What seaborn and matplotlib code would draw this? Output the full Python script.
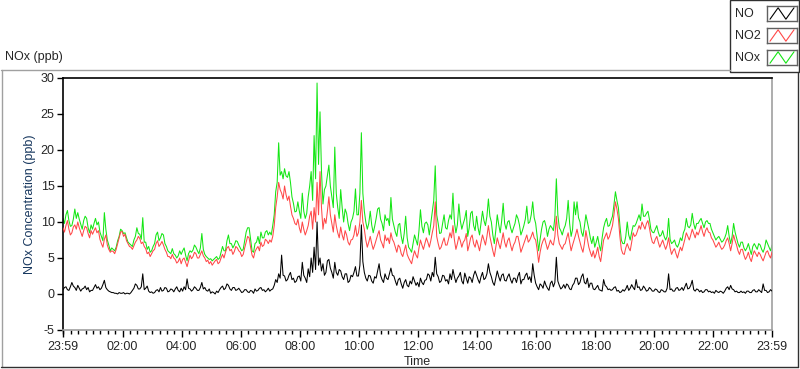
import numpy as np
import pandas as pd
import matplotlib
matplotlib.use("Agg")
import matplotlib.pyplot as plt
import seaborn as sns
from matplotlib.lines import Line2D
from matplotlib.patches import Rectangle


# DATA  (one reading every 3 minutes, starting at 23:59 of the previous day)
# one row per hour: 20 readings

STEP_MIN = 3

no_ppb = [
    0.6, 0.9, 1.0, 0.6, 0.5, 1.0, 1.6, 1.1, 0.9, 0.5, 1.2, 0.8, 0.4, 0.7, 0.8, 1.1, 0.6, 0.9, 0.3, 0.5,
    0.5, 0.9, 1.3, 0.8, 1.0, 0.6, 0.8, 1.3, 1.9, 0.9, 0.6, 0.4, 0.3, 0.2, 0.2, 0.1, 0.1, 0.0, 0.2, 0.1,
    0.1, 0.2, 0.0, 0.1, 0.1, 0.0, 0.2, 0.5, 0.8, 1.4, 1.2, 0.7, 0.7, 1.0, 2.8, 0.6, 0.8, 1.1, 0.4, 0.2,
    0.3, 0.1, 0.2, 0.5, 0.6, 0.3, 0.9, 0.4, 0.5, 0.9, 0.8, 0.3, 0.4, 0.7, 0.6, 0.3, 0.7, 1.0, 0.5, 0.3,
    0.8, 0.4, 1.0, 0.6, 2.1, 0.8, 0.7, 0.4, 0.6, 1.0, 0.8, 0.5, 0.5, 0.9, 1.6, 0.7, 0.9, 0.5, 0.4, 0.7,
    0.1, 0.3, 0.2, 0.0, 0.4, 0.2, 0.6, 0.9, 1.1, 0.6, 0.8, 1.4, 1.2, 0.7, 0.5, 0.9, 0.9, 0.5, 0.6, 0.8,
    0.5, 0.2, 0.3, 0.6, 0.6, 0.3, 0.2, 0.5, 0.4, 0.1, 0.7, 0.4, 0.5, 0.8, 0.9, 0.5, 0.6, 0.3, 0.5, 0.8,
    0.4, 0.6, 0.7, 1.2, 2.0, 1.6, 2.8, 2.2, 5.4, 2.6, 2.5, 1.8, 2.0, 2.6, 3.0, 2.0, 2.2, 1.6, 1.8, 2.4,
    2.5, 1.8, 4.4, 2.6, 2.2, 1.6, 3.5, 2.4, 5.0, 3.0, 6.5, 3.4, 10.0, 4.0, 5.0, 3.2, 4.2, 2.6, 3.0, 4.6,
    4.8, 3.6, 3.0, 2.2, 4.4, 3.0, 2.6, 3.4, 3.2, 2.4, 2.0, 2.8, 2.8, 1.6, 1.8, 2.6, 2.4, 3.0, 3.8, 2.5,
    2.5, 4.0, 9.6, 4.5, 3.0, 2.2, 1.8, 2.6, 2.5, 1.8, 1.5, 2.4, 2.2, 3.2, 4.2, 2.6, 2.0, 1.6, 2.8, 2.2,
    2.0, 2.8, 3.6, 2.6, 2.5, 1.8, 1.2, 2.0, 2.2, 1.4, 0.8, 1.6, 2.0, 1.2, 1.0, 1.8, 1.4, 2.4, 1.8, 1.2,
    1.6, 1.0, 2.2, 1.6, 1.3, 1.9, 2.0, 2.8, 2.6, 1.8, 3.0, 2.4, 5.1, 2.8, 2.4, 1.6, 1.8, 2.6, 2.5, 1.8,
    2.0, 1.4, 2.8, 2.0, 3.4, 2.4, 1.6, 2.2, 2.5, 3.0, 1.8, 1.4, 2.9, 2.2, 1.5, 2.4, 2.2, 1.6, 2.6, 3.2,
    2.6, 2.0, 1.5, 2.4, 3.0, 2.0, 2.2, 2.8, 4.2, 3.0, 2.4, 1.6, 1.2, 2.2, 3.2, 2.4, 1.8, 2.6, 2.8, 1.9,
    1.8, 2.4, 2.8, 2.0, 1.5, 2.2, 2.2, 1.6, 2.5, 3.0, 1.4, 2.0, 2.0, 2.6, 2.9, 2.0, 2.4, 1.6, 4.2, 2.6,
    1.5, 1.0, 0.6, 1.4, 1.2, 0.8, 1.8, 1.2, 0.8, 0.5, 1.5, 1.8, 1.0, 1.6, 5.1, 1.8, 1.2, 0.7, 0.9, 1.3,
    0.8, 1.4, 1.2, 0.7, 0.6, 1.2, 1.5, 2.2, 2.2, 1.3, 1.6, 2.4, 2.8, 1.6, 1.4, 2.2, 0.9, 1.5, 1.5, 0.7,
    0.6, 0.9, 1.2, 0.6, 0.5, 0.4, 2.0, 1.2, 1.0, 0.6, 0.7, 0.5, 0.6, 0.9, 1.0, 0.4, 0.5, 0.2, 0.3, 0.6,
    0.4, 0.7, 1.2, 0.5, 0.8, 1.3, 0.9, 0.6, 2.0, 0.9, 1.0, 0.5, 0.6, 1.1, 0.8, 0.4, 0.5, 0.9, 0.7, 0.4,
    0.4, 0.7, 0.6, 0.3, 0.2, 0.6, 0.5, 0.3, 0.3, 0.8, 2.8, 0.6, 0.7, 0.4, 0.4, 0.8, 0.9, 0.5, 0.6, 0.9,
    0.5, 1.0, 1.5, 0.7, 0.8, 1.2, 1.9, 0.6, 0.4, 0.7, 0.6, 0.3, 0.5, 0.2, 0.3, 0.6, 0.6, 0.3, 0.4, 0.2,
    0.3, 0.1, 0.5, 0.3, 0.2, 0.4, 0.3, 0.1, 0.4, 0.8, 1.0, 0.6, 1.2, 0.7, 0.6, 0.3, 0.4, 0.2, 0.2, 0.4,
    0.2, 0.3, 0.1, 0.4, 0.4, 0.2, 0.2, 0.5, 0.6, 0.3, 0.3, 0.6, 0.4, 0.2, 1.4, 0.5, 0.5, 0.2, 0.3, 0.6,
    0.4,
]

no2_ppb = [
    9.2, 8.6, 9.5, 10.2, 9.0, 8.2, 8.5, 9.3, 9.6, 9.0, 10.0, 9.2, 8.6, 8.0, 8.8, 9.4, 9.2, 8.4, 7.8, 8.8,
    8.3, 8.8, 9.2, 8.5, 8.8, 7.6, 7.0, 6.5, 7.6, 8.2, 6.8, 6.2, 5.8, 6.0, 5.9, 5.6, 6.2, 7.0, 7.8, 8.6,
    8.7, 8.0, 8.3, 7.4, 7.0, 6.6, 6.5, 6.2, 6.7, 7.2, 7.5, 8.0, 7.7, 7.0, 7.2, 6.6, 6.3, 5.6, 5.8, 5.2,
    5.6, 6.0, 6.2, 7.0, 7.4, 6.6, 6.9, 7.3, 6.8, 6.2, 5.8, 5.2, 5.2, 4.9, 5.5, 5.0, 4.8, 4.3, 4.5, 5.0,
    4.2, 4.8, 5.0, 4.4, 3.8, 4.6, 5.4, 4.9, 5.2, 5.8, 5.6, 5.0, 5.0, 5.5, 6.0, 5.3, 5.0, 4.5, 4.7, 4.2,
    4.5, 4.0, 4.3, 4.6, 4.8, 4.2, 4.4, 5.0, 5.5, 5.0, 5.8, 6.4, 6.6, 6.0, 6.2, 5.5, 5.9, 6.6, 6.4, 6.0,
    5.8, 5.2, 5.5, 6.4, 7.2, 8.0, 7.8, 6.5, 5.4, 5.0, 5.9, 6.3, 6.6, 6.0, 7.2, 6.6, 6.8, 7.6, 7.4, 7.0,
    7.5, 7.2, 8.0, 9.5, 12.0, 13.5, 15.5, 14.5, 14.0, 13.2, 15.0, 13.8, 13.0, 13.6, 12.2, 11.0, 10.5, 9.8, 9.6, 10.4,
    9.2, 8.5, 10.0, 9.0, 8.2, 8.8, 9.5, 10.8, 11.5, 9.0, 12.0, 10.0, 15.5, 11.0, 17.0, 12.0, 9.0, 10.5, 9.8, 11.5,
    13.5, 11.0, 9.8, 8.6, 11.0, 9.5, 8.5, 7.8, 9.3, 8.2, 7.5, 8.8, 8.2, 7.2, 6.8, 7.5, 7.6, 8.2, 9.5, 8.0,
    8.5, 10.0, 13.0, 10.0, 9.0, 7.5, 6.5, 7.2, 8.0, 7.0, 6.2, 6.8, 7.5, 8.2, 8.8, 7.5, 7.0, 6.4, 8.2, 7.4,
    7.8, 7.0, 8.5, 7.6, 7.2, 6.5, 5.8, 6.8, 6.5, 5.6, 5.2, 6.0, 6.8, 5.5, 5.0, 4.6, 4.2, 5.2, 6.0, 5.4,
    5.0, 6.4, 7.5, 6.8, 6.2, 7.0, 7.8, 7.2, 6.5, 7.4, 8.5, 9.5, 12.8, 8.0, 7.0, 6.2, 6.5, 7.2, 7.8, 6.8,
    6.8, 7.6, 8.5, 7.8, 9.5, 7.5, 6.2, 7.0, 8.0, 7.4, 6.5, 7.2, 7.5, 8.4, 6.0, 6.8, 7.8, 8.2, 7.0, 6.5,
    7.5, 6.8, 6.0, 7.2, 8.2, 7.5, 6.8, 8.0, 9.5, 8.0, 7.0, 6.0, 5.2, 6.5, 7.8, 7.0, 6.3, 7.4, 8.5, 7.2,
    6.5, 7.4, 7.8, 6.8, 6.0, 6.8, 7.2, 8.0, 8.0, 7.0, 5.8, 6.4, 7.0, 7.6, 8.2, 7.2, 7.5, 8.0, 8.6, 7.8,
    7.5, 6.2, 4.4, 5.8, 6.8, 7.4, 7.8, 7.0, 6.2, 6.8, 7.5, 7.0, 6.8, 8.0, 10.8, 8.2, 7.0, 6.6, 6.2, 6.8,
    7.0, 7.8, 8.5, 7.2, 6.0, 6.8, 7.5, 8.2, 9.0, 8.0, 7.2, 6.4, 5.8, 7.0, 8.8, 7.6, 6.5, 5.8, 5.2, 6.0,
    5.0, 5.6, 6.5, 5.2, 4.5, 6.0, 7.5, 8.0, 8.5, 7.6, 8.0, 8.8, 9.5, 11.0, 12.8, 11.8, 10.5, 8.0, 6.2, 5.6,
    5.5, 6.4, 7.0, 6.4, 6.0, 7.2, 8.5, 8.0, 8.2, 8.8, 9.5, 9.0, 10.0, 9.5, 9.0, 9.8, 10.2, 9.2, 8.0, 7.2,
    7.0, 7.6, 8.0, 7.2, 6.5, 7.0, 7.5, 6.8, 6.2, 6.8, 7.8, 6.4, 5.5, 6.0, 6.3, 5.6, 5.0, 5.8, 6.5, 6.0,
    6.8, 7.6, 8.5, 8.0, 7.5, 8.2, 9.0, 8.4, 7.8, 8.6, 8.2, 8.8, 9.5, 8.6, 8.0, 8.8, 9.2, 8.6, 8.5, 7.8,
    7.5, 7.0, 6.5, 6.8, 7.2, 6.6, 6.2, 6.4, 6.8, 7.4, 7.8, 7.0, 6.0, 7.0, 8.2, 7.4, 6.8, 6.0, 5.5, 6.2,
    6.2, 5.4, 4.8, 5.2, 5.8, 5.0, 4.5, 5.4, 6.0, 5.6, 5.2, 5.8, 5.5, 5.0, 4.6, 5.2, 5.8, 6.0, 5.4, 5.0,
    5.8,
]

nox_ppb = [
    10.5, 9.8, 11.0, 11.6, 10.2, 9.4, 9.5, 10.4, 11.8, 10.5, 11.3, 10.4, 9.7, 9.0, 10.2, 10.8, 10.5, 9.2, 8.5, 9.6,
    9.0, 9.8, 10.5, 9.6, 10.0, 8.6, 8.0, 7.4, 11.3, 9.0, 7.5, 6.8, 6.0, 6.4, 6.2, 6.0, 6.5, 7.4, 8.0, 9.0,
    8.8, 8.4, 8.5, 7.8, 7.2, 7.0, 6.8, 6.6, 7.5, 8.0, 9.2, 8.4, 8.3, 7.6, 10.6, 7.2, 7.2, 6.2, 6.6, 5.8,
    6.0, 6.6, 7.0, 8.2, 8.6, 7.4, 7.8, 8.4, 8.2, 7.0, 6.6, 6.0, 5.8, 5.6, 6.3, 5.6, 5.4, 5.0, 5.3, 6.0,
    5.5, 6.0, 6.4, 5.4, 4.6, 5.6, 6.0, 5.8, 6.1, 6.8, 6.5, 6.0, 5.6, 6.4, 8.4, 6.2, 5.5, 5.2, 5.0, 4.8,
    4.9, 4.6, 4.8, 5.0, 5.2, 4.8, 5.0, 5.8, 6.6, 6.0, 6.0, 7.4, 8.2, 7.0, 7.0, 6.4, 6.8, 7.4, 7.3, 6.8,
    6.4, 6.0, 6.2, 7.4, 8.6, 9.2, 9.2, 7.6, 6.0, 5.8, 7.0, 7.2, 8.0, 7.0, 8.6, 7.8, 7.8, 8.6, 8.8, 8.2,
    8.6, 8.2, 9.5, 11.0, 14.2, 15.5, 21.0, 16.5, 17.0, 16.0, 17.4, 16.4, 16.2, 17.0, 15.5, 13.5, 12.6, 11.4, 11.5, 12.8,
    11.5, 10.5, 14.0, 11.5, 10.5, 11.2, 13.5, 15.0, 17.0, 13.0, 22.0, 16.0, 29.3, 18.0, 25.3, 17.0, 12.5, 14.5, 15.0, 16.5,
    17.9, 15.0, 13.5, 12.0, 20.4, 14.0, 12.0, 10.5, 14.5, 12.0, 10.0, 11.8, 11.2, 9.8, 8.8, 10.0, 10.5, 11.5, 14.6, 11.0,
    11.0, 14.0, 22.4, 14.0, 11.5, 10.0, 9.0, 9.8, 11.5, 9.6, 8.5, 9.4, 10.5, 11.8, 12.0, 10.4, 9.8, 8.8, 11.0, 10.2,
    10.5, 9.5, 13.4, 10.4, 9.5, 8.6, 8.0, 9.6, 9.8, 8.0, 7.0, 8.4, 10.8, 7.8, 6.5, 6.2, 5.8, 7.0, 8.2, 7.5,
    6.8, 8.8, 11.7, 9.4, 8.5, 9.8, 10.0, 9.6, 8.2, 9.8, 11.5, 13.0, 17.8, 11.0, 9.8, 8.4, 8.5, 9.8, 11.0, 9.2,
    9.0, 10.2, 11.0, 10.4, 14.0, 10.0, 8.5, 9.6, 12.5, 10.2, 9.0, 9.8, 10.5, 11.6, 8.0, 9.2, 11.2, 11.5, 9.5, 8.8,
    10.8, 9.2, 8.2, 9.8, 11.5, 10.2, 9.5, 10.8, 13.2, 10.8, 10.0, 8.2, 7.0, 8.8, 11.0, 9.6, 8.5, 10.2, 12.6, 9.8,
    9.0, 10.0, 10.2, 9.2, 8.5, 9.2, 9.8, 11.0, 10.5, 9.6, 8.2, 8.8, 9.5, 10.4, 12.2, 9.8, 10.0, 11.0, 12.8, 10.6,
    9.8, 8.0, 6.0, 7.6, 9.0, 10.0, 10.2, 9.4, 8.0, 9.0, 9.5, 9.2, 8.8, 10.6, 16.0, 11.0, 9.2, 8.8, 8.2, 9.0,
    9.5, 10.5, 13.0, 9.8, 8.0, 9.0, 12.8, 11.0, 12.8, 10.6, 10.0, 8.6, 8.0, 9.4, 11.0, 10.0, 9.0, 7.8, 7.0, 8.0,
    6.5, 7.2, 8.0, 6.8, 6.0, 7.8, 9.2, 10.0, 10.5, 9.4, 9.5, 10.2, 10.8, 12.4, 14.2, 13.0, 12.0, 9.6, 7.5, 7.0,
    7.0, 8.0, 10.0, 8.2, 7.5, 8.6, 9.5, 9.4, 9.8, 10.4, 11.0, 10.2, 12.5, 10.8, 10.8, 11.2, 11.5, 10.4, 9.0, 8.6,
    8.5, 9.0, 9.5, 8.6, 8.0, 8.2, 8.8, 8.0, 7.5, 8.0, 10.5, 7.6, 7.0, 7.2, 7.5, 6.8, 6.5, 7.0, 7.8, 7.4,
    8.5, 9.0, 10.5, 9.4, 9.2, 9.6, 11.2, 9.8, 9.0, 9.8, 9.8, 10.2, 10.5, 9.8, 9.2, 10.0, 10.2, 9.8, 9.8, 9.0,
    8.5, 8.0, 7.5, 7.8, 8.0, 7.6, 7.2, 7.4, 7.8, 8.4, 9.5, 8.0, 7.0, 8.0, 9.8, 8.6, 7.8, 7.0, 6.5, 7.2,
    7.2, 6.4, 6.0, 6.4, 7.0, 6.2, 5.5, 6.6, 7.0, 6.6, 6.2, 7.0, 6.8, 6.2, 5.8, 6.4, 7.5, 7.0, 6.5, 6.0,
    6.8,
]

series_names = ["NO", "NO2", "NOx"]
series_colors = ["#000000", "#FF4848", "#14E614"]

# x ticks (minutes after 23:59)
tick_minutes = [0, 121, 241, 361, 481, 601, 721, 841, 961, 1081, 1201, 1321, 1440]
tick_labels = ["23:59", "02:00", "04:00", "06:00", "08:00", "10:00", "12:00",
               "14:00", "16:00", "18:00", "20:00", "22:00", "23:59"]
y_ticks = [-5, 0, 5, 10, 15, 20, 25, 30]


# BUILD TABLE

minutes = np.arange(len(no_ppb)) * STEP_MIN
df = pd.DataFrame({"Time": minutes, "NO": no_ppb, "NO2": no2_ppb, "NOx": nox_ppb})


# PLOT

sns.set_style("white")
plt.rcParams["font.family"] = ["Liberation Sans", "DejaVu Sans"]
plt.rcParams["font.size"] = 9

fig = plt.figure(figsize=(8, 3.69), dpi=100)
ax = fig.add_axes([63 / 800, 1 - 330 / 369, (772 - 63) / 800, (330 - 78) / 369])

# green behind red, black on its own
sns.lineplot(data=df, x="Time", y="NOx", color=series_colors[2], lw=0.75, ax=ax, zorder=2)
sns.lineplot(data=df, x="Time", y="NO2", color=series_colors[1], lw=0.75, ax=ax, zorder=3)
sns.lineplot(data=df, x="Time", y="NO", color=series_colors[0], lw=0.75, ax=ax, zorder=4)

ax.set_xlim(0, 1440)
ax.set_ylim(-5, 30)
ax.set_xticks(tick_minutes)
ax.set_xticklabels(tick_labels)
ax.set_xticks(np.arange(1, 1440, 15), minor=True)
ax.set_yticks(y_ticks)
ax.set_yticklabels([str(v) for v in y_ticks])

ax.tick_params(axis="x", which="major", direction="out", length=5, width=1, color="black",
               pad=3, labelsize=9, bottom=True)
ax.tick_params(axis="x", which="minor", direction="out", length=3, width=1, color="black", bottom=True)
ax.tick_params(axis="y", which="major", direction="out", length=4, width=1, color="black",
               pad=2, labelsize=9, left=True)

ax.set_xlabel("Time", fontsize=9, labelpad=2)
ax.set_ylabel("NOx Concentration (ppb)", fontsize=9, color="#17375E", labelpad=3)

for side in ["top", "left"]:
    ax.spines[side].set_color("black")
    ax.spines[side].set_linewidth(1.2)
for side in ["right", "bottom"]:
    ax.spines[side].set_color("#A0A0A0")
    ax.spines[side].set_linewidth(1.2)

# outer panel frame
fig.add_artist(Line2D([0.001, 730 / 800], [1 - 70 / 369] * 2, color="#A0A0A0", lw=1))
fig.add_artist(Line2D([0.002, 0.002], [1 - 70 / 369, 1 - 367 / 369], color="#A0A0A0", lw=1))
fig.add_artist(Line2D([0.001, 0.998], [1 - 367 / 369] * 2, color="#303030", lw=1))
fig.add_artist(Line2D([0.998, 0.998], [1 - 72 / 369, 1 - 367 / 369], color="#303030", lw=1))

fig.text(5 / 800, 1 - 57 / 369, "NOx (ppb)", fontsize=9, va="center", ha="left")

# LabVIEW style legend box
legend_box = Rectangle((730 / 800, 1 - 72 / 369), 69 / 800, 72 / 369, transform=fig.transFigure,
                       facecolor="white", edgecolor="#303030", lw=1, zorder=0)
fig.add_artist(legend_box)
entry_y = [14, 36, 58]
for name, color, yc in zip(series_names, series_colors, entry_y):
    fig.text(735 / 800, 1 - yc / 369, name, fontsize=9, va="center", ha="left", zorder=6)
    sw = fig.add_axes([767 / 800, 1 - (yc + 7) / 369, 30 / 800, 15 / 369])
    sw.set_zorder(5)
    sw.plot([0.1, 0.37, 0.63, 0.9], [0.12, 0.88, 0.12, 0.88], color=color, lw=0.8)
    sw.set_xlim(0, 1)
    sw.set_ylim(0, 1)
    sw.set_xticks([])
    sw.set_yticks([])
    for side in sw.spines:
        sw.spines[side].set_color("#606060")
        sw.spines[side].set_linewidth(1)

fig.savefig("out.png", dpi=100)
